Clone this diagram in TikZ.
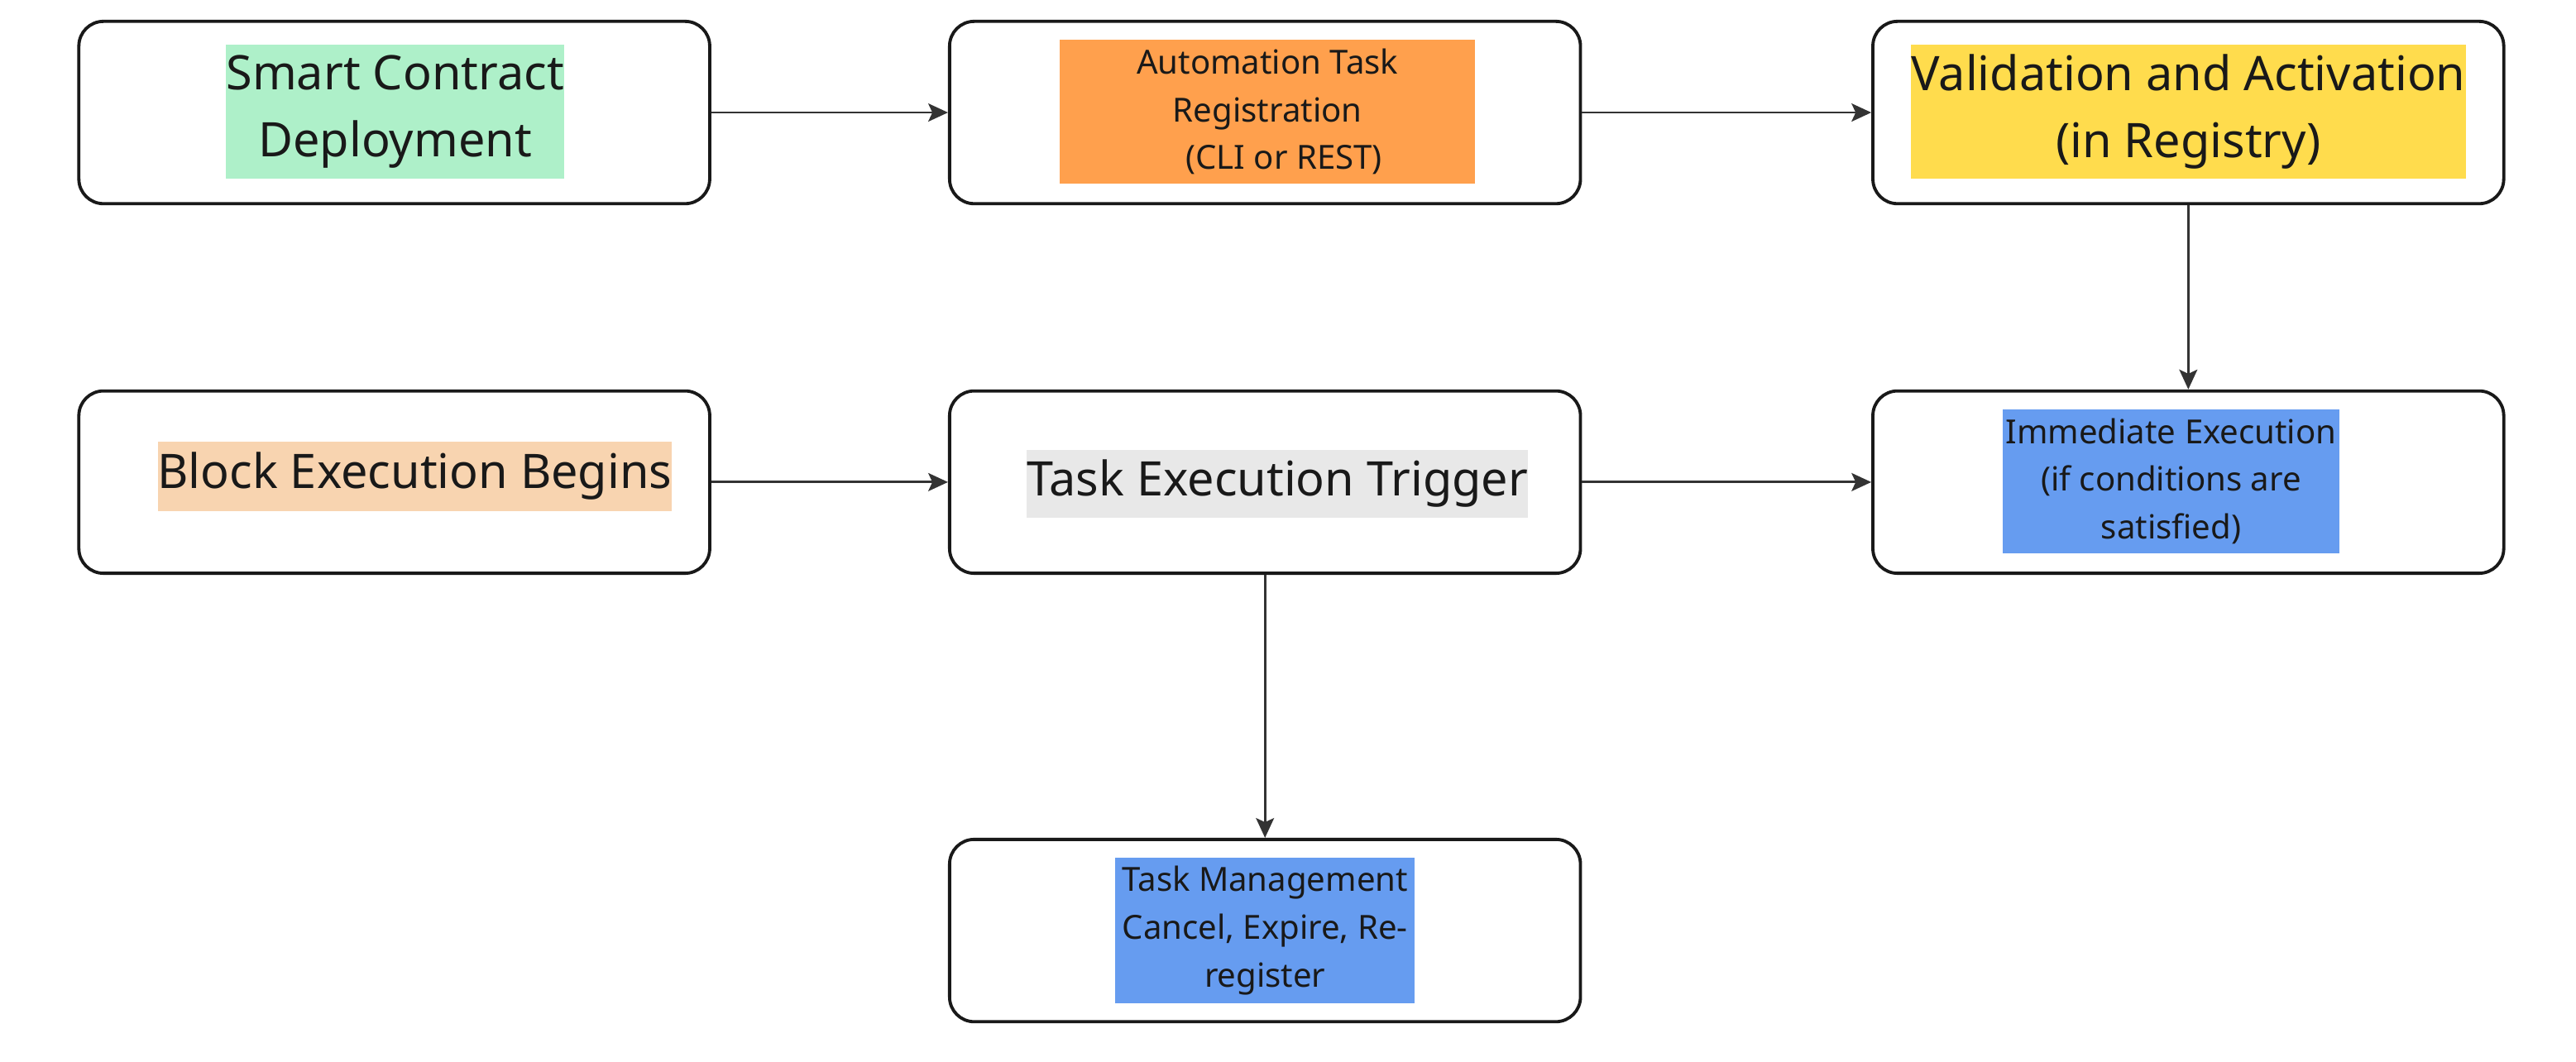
\documentclass[tikz,border=0pt]{standalone}
\usepackage{fontspec}
\setmainfont{Noto Sans}
\usetikzlibrary{arrows.meta}
\definecolor{mintbg}{HTML}{AEF0C9}
\definecolor{orangebg}{HTML}{FFA04D}
\definecolor{yellowbg}{HTML}{FFDC4D}
\definecolor{peachbg}{HTML}{F8D4B0}
\definecolor{greybg}{HTML}{E8E8E8}
\definecolor{bluebg}{HTML}{669CF0}
\definecolor{linegrey}{HTML}{333333}
\tikzset{
  taskbox/.style={draw=black!90, line width=1.1pt, rounded corners=0.3cm, fill=white,
    minimum width=7.68cm, minimum height=2.22cm},
  hilite/.style={inner sep=0pt, align=center, text=black!90},
  bigtext/.style={font=\fontsize{16.5}{23.3}\selectfont},
  smalltext/.style={font=\fontsize{11.5}{16.5}\selectfont},
  flow/.style={draw=linegrey, line width=0.8pt,
    -{Stealth[length=0.24cm, width=0.22cm, inset=0.05cm]}}
}
\begin{document}
\begin{tikzpicture}
        \useasboundingbox (0,0) rectangle (31.36,-12.93);

        %outer boxes
        \node[taskbox] (deploy) at (4.80,-1.37) {};
        \node[taskbox] (register) at (15.40,-1.37) {};
        \node[taskbox] (validate) at (26.64,-1.37) {};
        \node[taskbox] (block) at (4.80,-5.87) {};
        \node[taskbox] (trigger) at (15.40,-5.87) {};
        \node[taskbox] (execute) at (26.64,-5.87) {};
        \node[taskbox] (manage) at (15.40,-11.33) {};

        %highlighted texts, first row
        \node[hilite, bigtext, fill=mintbg, minimum width=4.10cm, minimum height=1.64cm]
            (deploy-txt) at (4.81,-1.36) {Smart Contract\\Deployment};
        \node[hilite, smalltext, fill=orangebg, minimum width=5.06cm, minimum height=1.76cm]
            (register-txt) at (15.43,-1.36) {Automation Task\\Registration\\\hspace*{0.4cm}(CLI or REST)};
        \node[hilite, bigtext, fill=yellowbg, minimum width=6.76cm, minimum height=1.64cm]
            (validate-txt) at (26.64,-1.36) {Validation and Activation\\(in Registry)};

        %highlighted texts, second row
        \node[hilite, bigtext, fill=peachbg, minimum width=6.26cm, minimum height=0.84cm]
            (block-txt) at (5.05,-5.80) {Block Execution Begins};
        \node[hilite, bigtext, fill=greybg, minimum width=6.10cm, minimum height=0.82cm]
            (trigger-txt) at (15.55,-5.89) {Task Execution Trigger};
        \node[hilite, smalltext, fill=bluebg, minimum width=4.10cm, minimum height=1.76cm]
            (execute-txt) at (26.43,-5.86) {Immediate Execution\\(if conditions are\\satisfied)};

        %highlighted text, third row
        \node[hilite, smalltext, fill=bluebg, minimum width=3.64cm, minimum height=1.78cm]
            (manage-txt) at (15.40,-11.33) {Task Management\\Cancel, Expire, Re-\\register};

        %arrows
        \draw[flow] (deploy) -- (register);
        \draw[flow] (register) -- (validate);
        \draw[flow] (validate) -- (execute);
        \draw[flow] (block) -- (trigger);
        \draw[flow] (trigger) -- (execute);
        \draw[flow] (trigger) -- (manage);
\end{tikzpicture}
\end{document}
